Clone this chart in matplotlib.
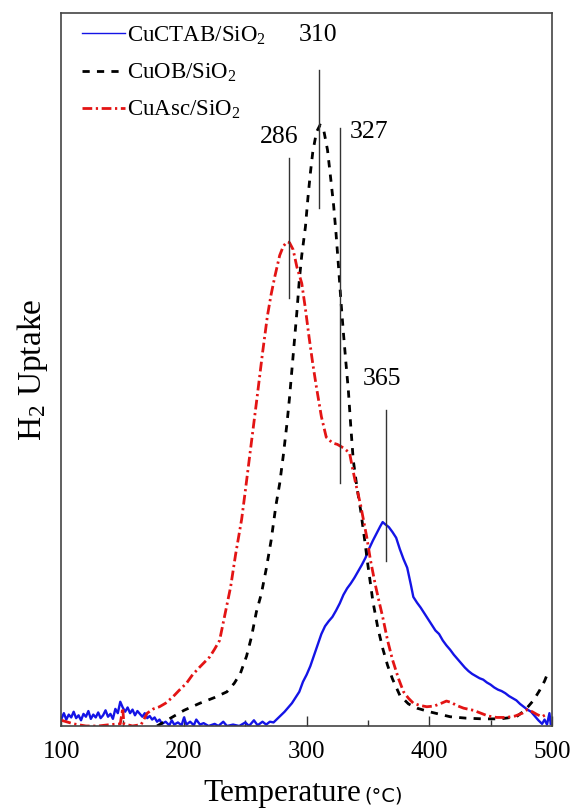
import matplotlib
matplotlib.use("Agg")
import matplotlib.pyplot as plt
from matplotlib.lines import Line2D
from matplotlib.ticker import MultipleLocator

plt.rcParams['font.family'] = ['Liberation Serif', 'DejaVu Serif']
plt.rcParams['mathtext.fontset'] = 'custom'
plt.rcParams['mathtext.rm'] = 'Liberation Serif'
plt.rcParams['mathtext.it'] = 'Liberation Serif:italic'

# TPR profiles (arbitrary units)
t_ctab = [100, 102, 104, 106, 108, 110, 112, 114, 116, 118, 120, 122, 124, 126, 128, 130,
          132, 134, 136, 138, 140, 142, 144, 146, 148, 150, 152, 154, 156, 158, 160, 162,
          164, 166, 168, 170, 172, 174, 176, 178, 180, 182, 185, 188, 190, 192, 195, 198,
          200, 202, 205, 208, 210, 213, 216, 220, 225, 228, 232, 235, 240, 245, 250, 253,
          257, 260, 264, 267, 270, 273, 276, 279, 282, 285, 288, 291, 294, 297, 300, 303,
          306, 309, 312, 315, 318, 321, 324, 327, 330, 333, 336, 339, 342, 345, 348, 351,
          354, 357, 360, 362, 364, 367, 370, 373, 376, 379, 382, 385, 387, 390, 393, 396,
          399, 402, 405, 408, 411, 414, 417, 420, 423, 426, 429, 432, 435, 438, 441, 444,
          447, 450, 453, 456, 459, 462, 465, 468, 471, 474, 477, 480, 483, 486, 489, 492,
          494, 496, 498, 499]
v_ctab = [1.0, 1.8, 0.9, 1.6, 1.2, 2.0, 1.1, 1.5, 0.8, 1.7, 1.3, 2.1, 1.0, 1.6, 1.2, 1.9,
          1.1, 1.5, 2.2, 1.3, 1.7, 1.0, 2.4, 1.8, 3.4, 2.6, 2.0, 2.6, 1.8, 2.3, 1.5, 2.1,
          1.7, 1.3, 1.8, 1.1, 1.4, 0.9, 1.2, 0.6, 0.9, 0.3, 0.6, 0.1, 0.8, 0.2, 0.5, 0.1,
          1.2, 0.2, 0.6, 0.1, 0.9, 0.2, 0.4, 0.0, 0.3, 0.0, 0.6, 0.0, 0.2, 0.0, 0.5, 0.0,
          0.8, 0.1, 0.6, 0.2, 0.6, 0.5, 1.0, 1.5, 2.0, 2.6, 3.2, 4.0, 4.8, 6.2, 7.2, 8.4,
          9.9, 11.4, 12.9, 14.0, 14.7, 15.3, 16.2, 17.2, 18.4, 19.3, 20.0, 20.8, 21.7, 22.6, 23.6, 24.9,
          26.0, 27.0, 28.0, 28.6, 28.3, 27.9, 27.2, 26.4, 24.8, 23.4, 22.2, 19.8, 18.1, 17.3, 16.6, 15.8,
          15.0, 14.2, 13.4, 12.9, 12.0, 11.3, 10.7, 10.0, 9.4, 8.8, 8.2, 7.7, 7.3, 7.0, 6.7, 6.5,
          6.1, 5.8, 5.4, 5.1, 4.9, 4.6, 4.2, 3.9, 3.6, 3.1, 2.7, 2.3, 2.0, 1.4, 0.8, 0.3,
          0.9, 0.2, 1.8, 0.3]

t_ob = [178, 190, 200, 213, 225, 235, 241, 246, 251, 255, 259, 263, 267, 271, 275, 278,
        281, 284, 286, 288, 290, 292, 294, 296, 299, 301, 303, 305, 308, 311, 314, 317,
        320, 322, 324, 326, 328, 330, 332, 334, 336, 338, 341, 344, 347, 350, 354, 358,
        362, 366, 370, 376, 383, 390, 400, 417, 430, 444, 458, 471, 478, 485, 490, 494, 497]
v_ob = [0.0, 1.2, 2.2, 3.2, 4.0, 4.8, 6.0, 7.4, 9.8, 12.5, 16.0, 18.5, 22.0, 26.0, 31.0, 34.0,
        38.0, 42.5, 46.0, 50.0, 54.0, 58.0, 62.5, 66.0, 70.0, 74.0, 77.5, 80.5, 83.3, 84.3, 83.5, 80.8,
        76.2, 73.0, 69.0, 64.4, 59.5, 55.1, 51.0, 47.1, 42.0, 37.3, 33.5, 30.3, 26.5, 22.5, 17.5, 13.8,
        10.9, 8.5, 6.6, 4.3, 3.1, 2.5, 2.0, 1.3, 1.1, 1.0, 1.0, 1.3, 2.2, 3.6, 5.0, 6.3, 7.6]

t_asc = [100, 110, 120, 130, 140, 148, 150, 151, 158, 165, 170, 175, 180, 185, 191, 196,
         202, 207, 213, 217, 221, 225, 229, 232, 235, 238, 242, 247, 250, 254, 259, 264,
         268, 271, 274, 278, 281, 284, 286, 289, 292, 296, 299, 302, 305, 308, 312, 316,
         321, 325, 330, 335, 337, 340, 344, 349, 352, 356, 359, 362, 366, 370, 375, 379,
         383, 387, 392, 398, 404, 410, 414, 418, 422, 428, 436, 442, 448, 455, 463, 470,
         476, 480, 484, 488, 492, 496]
v_asc = [0.8, 0.3, 0.0, 0.0, 0.2, 0.3, 2.5, 0.3, 0.0, 0.2, 1.8, 2.4, 2.7, 3.2, 4.1, 5.0,
         6.0, 7.2, 8.3, 9.0, 9.7, 10.8, 12.0, 14.5, 17.0, 19.5, 24.0, 29.0, 33.0, 38.5, 45.3, 52.3,
         57.5, 60.5, 63.0, 66.0, 67.3, 67.9, 67.8, 66.8, 64.4, 62.1, 58.5, 54.5, 50.8, 47.5, 43.4, 40.5,
         39.7, 39.5, 39.0, 38.3, 36.5, 34.0, 31.0, 26.5, 23.3, 19.8, 17.5, 15.3, 12.0, 9.3, 6.6, 4.8,
         3.9, 3.2, 2.9, 2.7, 2.8, 3.2, 3.5, 3.3, 2.9, 2.5, 2.2, 1.8, 1.4, 1.2, 1.2, 1.4,
         1.8, 2.3, 2.0, 1.6, 1.3, 1.7]

# peak labels: temperature, label position (x, y), marker line extent
peak_t = [310, 286, 327, 365]
peak_text_xy = [(309.5, 96.9), (277.5, 82.6), (350.9, 83.3), (361.6, 48.7)]
peak_line_y = [(72.6, 92.0), (60.0, 79.7), (34.1, 83.9), (23.1, 44.3)]

labels = ['CuCTAB/SiO$_2$', 'CuOB/SiO$_2$', 'CuAsc/SiO$_2$']

fig = plt.figure(figsize=(5.73, 8.10), dpi=100)
ax = fig.add_axes([61.4 / 573, 84 / 810, 490.5 / 573, 713 / 810])

blue = '#1414e6'
red = '#e31414'
ax.plot(t_ctab, v_ctab, color=blue, lw=1.7)
ax.plot(t_ob, v_ob, color='black', lw=2.0, linestyle=(0, (2.6, 2.6)))
ax.plot(t_asc, v_asc, color=red, lw=2.0, linestyle=(0, (3.5, 1.3, 0.8, 1.3)))

for t, (tx, ty), (y0, y1) in zip(peak_t, peak_text_xy, peak_line_y):
    ax.plot([t, t], [y0, y1], color='#333333', lw=1.0)
    ax.text(tx, ty, str(t), ha='center', va='center', fontsize=18.5)

ax.set_xlim(100, 500)
ax.set_ylim(0, 100)
ax.set_yticks([])
ax.xaxis.set_major_locator(MultipleLocator(100))
ax.xaxis.set_minor_locator(MultipleLocator(50))
ax.tick_params(axis='x', which='major', direction='in', length=7, width=1,
               labelsize=18, pad=11, colors='#333333', labelcolor='black')
ax.tick_params(axis='x', which='minor', direction='in', length=4, width=1, colors='#333333')
for s in ax.spines.values():
    s.set_color('#444444')
    s.set_linewidth(1.2)

handles = [Line2D([], [], color=blue, lw=1.0),
           Line2D([], [], color='black', lw=2.0, linestyle=(0, (2.6, 2.6))),
           Line2D([], [], color=red, lw=2.0, linestyle=(0, (3.5, 1.3, 0.8, 1.3)))]
ax.legend(handles, labels, loc='upper left', bbox_to_anchor=(0.043, 0.984),
          frameon=False, fontsize=16.5, handlelength=1.85, handletextpad=0.1,
          labelspacing=0.65, borderpad=0, borderaxespad=0)

fig.text(32 / 573, 1 - 370 / 810, 'H$_2$ Uptake', rotation=90, ha='center', va='center',
         fontsize=24)
fig.text(203 / 573, 9 / 810, 'Temperature', ha='left', va='baseline', fontsize=22.5)
fig.text(364 / 573, 9 / 810, '(°C)', ha='left', va='baseline', fontsize=14,
         family='DejaVu Sans')

fig.savefig('out.png', dpi=100)
